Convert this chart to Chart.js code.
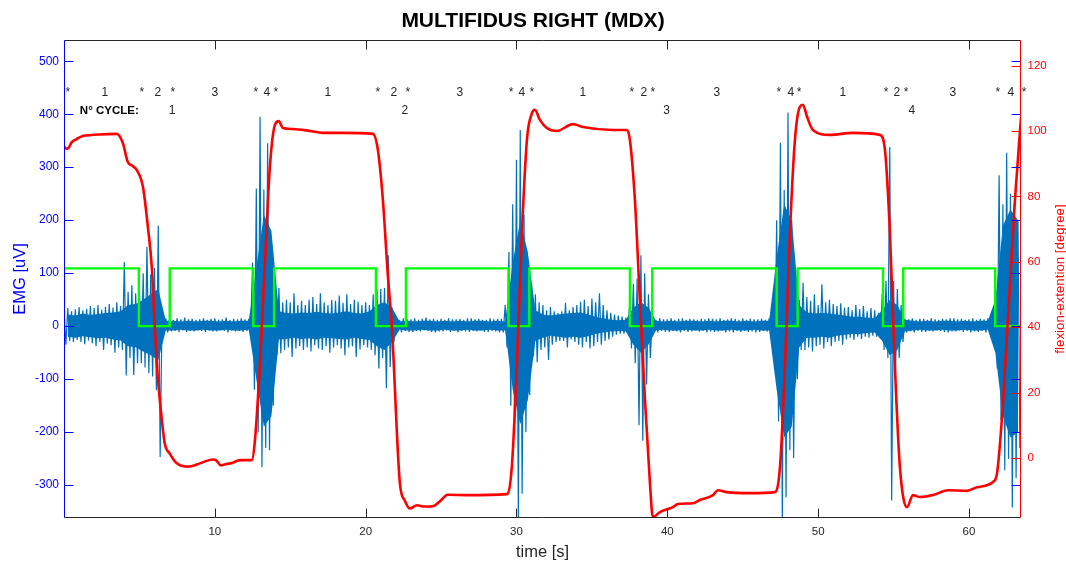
<!DOCTYPE html>
<html>
<head>
<meta charset="utf-8">
<script src="https://cdn.jsdelivr.net/npm/chart.js@4/dist/chart.umd.min.js"></script>
<style>
html,body{margin:0;padding:0;background:#fff;}
#c{display:block;}
</style>
</head>
<body>
<canvas id="c" width="1066" height="562"></canvas>
<script>
// ---------------- DATA ----------------
// EMG extremes read per 0.25 s bin (upper and lower, uV)
const emgStep = 0.25;
const emgHigh = [
  30,34,28,32,  36,30,33,38,  34,40,31,36,  42,35,45,38,          // 0-3
  121,65,77,62, 72,100,150,98, 110,190,18,15, 14,12,15,13,        // 4-7
  16,13,14,12,  13,15,12,14,  15,12,13,16,  12,14,13,15,          // 8-11
  13,14,120,260, 395,258,345,150,                                  // 12-13
  60,72,45,50,  45,62,40,48,  40,50,55,42,  62,45,40,50,          // 14-17
  48,58,44,60,  42,50,46,40,  45,40,60,70,  70,72,134,35,         // 18-21
  14,12,15,13,  13,15,12,14,  16,13,14,12,  14,12,15,13,          // 22-25
  13,14,12,15,  15,13,14,12,  12,15,13,14,  14,40,140,230,        // 26-29
  314,370,210,120, 78,60,45,40, 30,36,28,25, 28,44,30,36,         // 30-33
  40,46,50,38,  52,45,62,40,  30,25,22,20,  18,16,40,80,          // 34-37
  90,134,100,60, 14,12,15,13, 13,15,12,14, 15,12,14,13,           // 38-41
  12,14,13,15,  14,13,15,12,  13,15,14,12,  15,12,14,13,          // 42-45
  13,14,12,15,  30,200,346,257,                                    // 46-47
  403,200,90,50, 82,55,48,60, 40,79,45,50, 42,38,43,35,           // 48-51
  36,30,40,32,  38,28,34,30,  25,60,85,338, 85,70,40,14,          // 52-55
  13,15,12,14,  14,12,15,13,  12,14,13,15,  15,13,14,12,          // 56-59
  13,15,12,14,  13,15,14,60,  285,230,327,250, 230,200            // 60-63
];
const emgLow = [
  -35,-28,-30,-26, -30,-34,-27,-32, -38,-30,-45,-33, -36,-50,-40,-45,   // 0-3
  -93,-60,-92,-70, -70,-78,-89,-95, -121,-247,-14,-12, -10,-9,-11,-8,   // 4-7
  -11,-9,-10,-8,  -9,-11,-8,-10,  -10,-8,-9,-12,  -8,-10,-9,-11,        // 8-11
  -9,-10,-120,-200, -266,-230,-234,-150,                                // 12-13
  -55,-51,-45,-40, -58,-42,-38,-45, -40,-48,-36,-42, -45,-38,-50,-40,   // 14-17
  -36,-42,-55,-40, -38,-58,-44,-36, -40,-45,-55,-80, -60,-117,-77,-30,  // 18-21
  -10,-12,-9,-11, -11,-9,-10,-8,  -9,-11,-12,-10, -10,-8,-11,-9,        // 22-25
  -12,-9,-10,-11, -9,-10,-8,-11,  -11,-9,-10,-12, -12,-40,-150,-200,    // 26-29
  -370,-316,-200,-130, -57,-68,-45,-40, -64,-35,-30,-28, -28,-40,-25,-30, // 30-33
  -35,-40,-30,-42, -38,-30,-35,-28, -25,-20,-16,-14, -14,-13,-42,-70,   // 34-37
  -187,-216,-110,-60, -10,-12,-9,-11, -11,-9,-10,-12, -9,-11,-10,-8,    // 38-41
  -10,-9,-12,-10, -11,-10,-9,-12, -10,-12,-9,-11, -9,-11,-10,-12,       // 42-45
  -11,-9,-10,-8,  -82,-180,-370,-323,                                   // 46-47
  -234,-249,-100,-45, -45,-40,-48,-38, -35,-42,-30,-38, -30,-28,-35,-25, // 48-51
  -22,-26,-20,-24, -20,-22,-18,-20, -15,-45,-60,-329, -96,-60,-30,-12,  // 52-55
  -10,-12,-9,-11, -11,-9,-10,-8,  -9,-11,-12,-10, -10,-8,-11,-9,        // 56-59
  -12,-10,-11,-9, -12,-10,-11,-80, -177,-272,-250,-342, -287,-230       // 60-63
];
// EMG dense core read per 0.5 s bin (upper and lower, uV)
const coreStep = 0.5;
const coreHigh = [
  22,20,24,21, 23,25,26,28,            // 0-4
  40,42, 50,60,70, 10,                 // 4-7
  10,9,10,9, 10,10,9,10, 9,10,10,      // 7-12.5
  110,210,180,                         // 12.5-14
  28,25,24,26, 25,27,25,24, 26,28,25,24, 28,40,   // 14-21
  45,35,                               // 21-22
  9,10,9,10, 10,9,10,9, 10,9,10,10, 9,10,9,       // 22-29.5
  120,200,140,                         // 29.5-31
  30,22,20,22, 24,25,26,22, 18,15,     // 31-36
  12,11,12, 35,45,35,                  // 36-39
  10,9,10,9, 10,10,9,10, 9,10,10,9, 10,9,10,10,   // 39-47
  130,230,200,40,                      // 47-49
  26,24,25,24, 22,20,18,18, 16,15,     // 49-54
  30,50,40,12,                         // 54-56
  10,9,10,9, 10,10,9,10, 9,10,10,      // 56-61.5
  50,190,220,200                       // 61.5-63.5
];
const coreLow = [
  -20,-22,-19,-21, -23,-22,-25,-27,
  -38,-40, -48,-55,-65, -8,
  -8,-7,-8,-8, -7,-8,-8,-7, -8,-8,-7,
  -100,-190,-170,
  -25,-24,-22,-24, -23,-25,-22,-23, -24,-25,-22,-24, -26,-38,
  -45,-30,
  -7,-8,-8,-7, -8,-8,-7,-8, -8,-7,-8,-8, -7,-8,-8,
  -120,-185,-140,
  -28,-22,-18,-20, -22,-20,-22,-19, -15,-12,
  -10,-9,-10, -35,-50,-35,
  -8,-7,-8,-8, -7,-8,-8,-7, -8,-8,-7,-8, -8,-7,-8,-8,
  -120,-210,-190,-40,
  -22,-22,-20,-22, -18,-16,-15,-15, -13,-12,
  -28,-55,-45,-10,
  -8,-7,-8,-8, -7,-8,-8,-7, -8,-8,-7,
  -50,-170,-210,-200
];

// Flexion-extension angle (degree)
const angleTime = [0,0.15,0.3,0.5,0.75,1.3,2.3,3.5,3.9,4.23,4.55,4.83,5.23,5.56,5.82,6.02,6.22,6.49,6.68,7.01,7.48,8.14,8.5,9.0,9.87,10.07,10.4,10.6,11.19,11.66,12.45,12.65,12.98,13.31,13.65,13.98,14.24,14.51,15.17,16.3,17.16,18.49,20.48,20.81,21.14,21.47,21.74,22.27,22.6,22.93,23.4,23.9,24.45,24.9,25.45,26.7,29.36,29.69,30.02,30.36,30.69,31.02,31.22,31.55,32.01,32.68,33.74,34.4,36.39,37.32,37.52,37.85,38.18,38.52,38.85,39.04,39.51,40.37,40.7,41.7,42.16,43.03,43.36,43.95,45.47,47.13,47.47,47.8,48.13,48.46,48.79,48.99,49.26,49.65,50.78,52.31,54.1,54.43,54.76,55.09,55.42,55.89,56.29,56.75,57.61,58.61,59.87,60.53,61.59,61.86,62.19,62.59,63.05,63.45];
const angleDeg  = [95.2,94.6,94.8,96.5,97.3,98.5,98.9,99.1,96.3,90.5,89.3,88,83,70.7,58.4,40,24.8,11.6,4.5,1.4,-1.6,-2.6,-2.4,-1.6,-0.4,-0.6,-2.2,-2.0,-1.4,-0.6,-0.6,5,27.9,58.4,89,101.8,103,100.9,100.6,100,99.4,99.4,99.1,94.2,79,56,40,-7.7,-13,-15.4,-14.4,-14.8,-14.7,-13.3,-11.2,-11.3,-11,-2.7,27.9,68.7,97.2,105.4,106.5,103.4,100.9,100,102.1,101.2,100.3,100.3,97.2,79,48.3,17.7,-7.7,-18,-16.5,-15,-14,-13.8,-12.8,-11.3,-9.8,-10.4,-10.7,-10.4,-2.7,27.9,68.8,97.2,107.4,108,104.4,100.3,98.8,99.4,98.8,94.2,68.8,27.9,-2.7,-15,-11.3,-11.9,-11.3,-9.8,-10,-8.9,-7.3,-4.6,12.5,43,79,104];

// Phase trigger (square wave, uV scale)
const trigTime  = [0,0,4.96,7.01,12.55,13.93,20.68,22.67,29.47,30.85,37.52,39.0,47.25,48.64,54.3,55.64,61.74,63.45];
const trigLevel = [0,109,0,109,0,109,0,109,0,109,0,109,0,109,0,109,0,0];

// Ticks
const emgTicks = [-300,-200,-100,0,100,200,300,400,500];
const angleTicks = [0,20,40,60,80,100,120];
const timeTicks = [10,20,30,40,50,60];

// Annotations
const starTimes = [0.25,5.16,7.21,12.72,14.05,20.81,22.8,29.64,31.02,37.65,39.04,47.4,48.73,54.5,55.83,61.92,63.65];
const phaseTimes = [2.71,6.22,10.0,13.45,17.49,21.87,26.25,30.36,34.4,38.45,43.29,48.19,51.64,55.22,58.93,62.78];
const phaseLabels = ['1','2','3','4','1','2','3','4','1','2','3','4','1','2','3','4'];
const cycleTimes = [7.17,22.6,39.95,56.22];
const cycleLabels = ['1','2','3','4'];

// ---------------- CHART ----------------
const FONT = 'Arial, "Liberation Sans", Helvetica, sans-serif';
Chart.defaults.font.family = FONT;
const EMG_BLUE = '#0072bd';

const emgPoints = [];
for (let i = 0; i < emgHigh.length; i++) {
  const t = i * emgStep;
  emgPoints.push({x: t, y: emgHigh[i]});
  emgPoints.push({x: t + emgStep / 2, y: emgLow[i]});
}
const coreHiPts = coreHigh.map((v, k) => ({x: k * coreStep + coreStep / 2, y: v}));
const coreLoPts = coreLow.map((v, k) => ({x: k * coreStep + coreStep / 2, y: v}));
const anglePoints = angleTime.map((t, i) => ({x: t, y: angleDeg[i]}));
const trigPoints = trigTime.map((t, i) => ({x: t, y: trigLevel[i]}));

const frame = {
  id: 'frame',
  afterDraw(chart) {
    const {ctx, chartArea: a, scales} = chart;
    const x = scales.x, y = scales.y, y2 = scales.y2;
    const L = Math.round(a.left) + 0.5, R = Math.round(a.right) - 0.5;
    const T = Math.round(a.top) + 0.5, B = Math.round(a.bottom) - 0.5;
    const tk = 9;
    ctx.save();
    ctx.lineWidth = 1;
    ctx.strokeStyle = '#262626';
    ctx.beginPath();
    ctx.moveTo(L, T); ctx.lineTo(R, T);
    ctx.moveTo(L, B); ctx.lineTo(R, B);
    timeTicks.forEach(v => {
      const px = Math.round(x.getPixelForValue(v)) + 0.5;
      ctx.moveTo(px, B); ctx.lineTo(px, B - tk);
      ctx.moveTo(px, T); ctx.lineTo(px, T + tk);
    });
    ctx.stroke();
    ctx.strokeStyle = '#0000ff';
    ctx.beginPath();
    ctx.moveTo(L, T); ctx.lineTo(L, B);
    emgTicks.forEach(v => {
      const py = Math.round(y.getPixelForValue(v)) + 0.5;
      ctx.moveTo(L, py); ctx.lineTo(L + tk, py);
      ctx.moveTo(R, py); ctx.lineTo(R - tk, py);
    });
    ctx.stroke();
    ctx.strokeStyle = '#ff0000';
    ctx.beginPath();
    ctx.moveTo(R, T); ctx.lineTo(R, B);
    angleTicks.forEach(v => {
      const py = Math.round(y2.getPixelForValue(v)) + 0.5;
      ctx.moveTo(R, py); ctx.lineTo(R - tk, py);
    });
    ctx.stroke();

    ctx.save();
    ctx.translate(1060, (a.top + a.bottom) / 2);
    ctx.rotate(-Math.PI / 2);
    ctx.fillStyle = '#ff0000';
    ctx.font = '13.3px ' + FONT;
    ctx.textAlign = 'center';
    ctx.textBaseline = 'middle';
    ctx.fillText('flexion-extention [degree]', 0, 0);
    ctx.restore();

    const rowY = y.getPixelForValue(434.5);
    ctx.fillStyle = '#262626';
    ctx.font = '12px ' + FONT;
    ctx.textAlign = 'center';
    ctx.textBaseline = 'alphabetic';
    starTimes.forEach(t => ctx.fillText('*', x.getPixelForValue(t), rowY));
    phaseTimes.forEach((t, i) => ctx.fillText(phaseLabels[i], x.getPixelForValue(t), rowY));
    const cycY = y.getPixelForValue(401);
    ctx.fillStyle = '#000';
    ctx.font = 'bold 11.5px ' + FONT;
    ctx.textAlign = 'left';
    ctx.fillText('N° CYCLE:', x.getPixelForValue(1.05), cycY);
    ctx.font = '12px ' + FONT;
    ctx.fillStyle = '#262626';
    ctx.textAlign = 'center';
    cycleTimes.forEach((t, i) => ctx.fillText(cycleLabels[i], x.getPixelForValue(t), cycY));
    ctx.restore();
  }
};

new Chart(document.getElementById('c'), {
  type: 'line',
  data: {
    datasets: [
      {
        label: 'angle', data: anglePoints, yAxisID: 'y2', order: 0,
        borderColor: '#ff0000', borderWidth: 2.6, pointRadius: 0,
        cubicInterpolationMode: 'monotone', fill: false
      },
      {
        label: 'trigger', data: trigPoints, yAxisID: 'y', order: 1,
        borderColor: '#00ff00', borderWidth: 2.4, pointRadius: 0,
        stepped: true, fill: false
      },
      {
        label: 'EMG', data: emgPoints, yAxisID: 'y', order: 2,
        borderColor: EMG_BLUE, borderWidth: 1.2, pointRadius: 0,
        borderJoinStyle: 'bevel', tension: 0, fill: false
      },
      {
        label: 'EMG core hi', data: coreHiPts, yAxisID: 'y', order: 3,
        borderWidth: 0, borderColor: 'rgba(0,0,0,0)', pointRadius: 0,
        backgroundColor: EMG_BLUE, fill: '+1', tension: 0
      },
      {
        label: 'EMG core lo', data: coreLoPts, yAxisID: 'y', order: 4,
        borderWidth: 0, borderColor: 'rgba(0,0,0,0)', pointRadius: 0,
        fill: false, tension: 0
      }
    ]
  },
  options: {
    responsive: false,
    animation: false,
    devicePixelRatio: 1,
    layout: {padding: {left: 0, right: 0, top: 0, bottom: 0}},
    plugins: {
      legend: {display: false},
      tooltip: {enabled: false},
      filler: {propagate: false},
      title: {
        display: true, text: 'MULTIFIDUS RIGHT (MDX)', color: '#000',
        font: {size: 21, weight: 'bold', lineHeight: 1.2},
        padding: {top: 9, bottom: 5.8}
      }
    },
    scales: {
      x: {
        type: 'linear', position: 'bottom', min: 0, max: 63.45,
        afterBuildTicks: s => { s.ticks = timeTicks.map(v => ({value: v})); },
        afterFit: s => { s.height = 44; },
        grid: {display: false, drawTicks: false},
        border: {display: false},
        ticks: {color: '#262626', font: {size: 11.5}, padding: 7, maxRotation: 0, autoSkip: false},
        title: {display: true, text: 'time [s]', color: '#262626', font: {size: 16.5}, padding: {top: 0, bottom: 0}}
      },
      y: {
        type: 'linear', position: 'left', min: -362, max: 540,
        afterBuildTicks: s => { s.ticks = emgTicks.map(v => ({value: v})); },
        afterFit: s => { s.width = 64; },
        grid: {display: false, drawTicks: false},
        border: {display: false},
        ticks: {color: '#0000ff', font: {size: 12}, padding: 5},
        title: {display: true, text: 'EMG [uV]', color: '#0000ff', font: {size: 16.5}, padding: {top: 11, bottom: 0}}
      },
      y2: {
        type: 'linear', position: 'right', min: -18.3, max: 127.8,
        afterBuildTicks: s => { s.ticks = angleTicks.map(v => ({value: v})); },
        afterFit: s => { s.width = 45; },
        grid: {display: false, drawTicks: false},
        border: {display: false},
        ticks: {color: '#ff0000', font: {size: 11.5}, padding: 6.5}
      }
    }
  },
  plugins: [frame]
});
</script>
</body>
</html>
